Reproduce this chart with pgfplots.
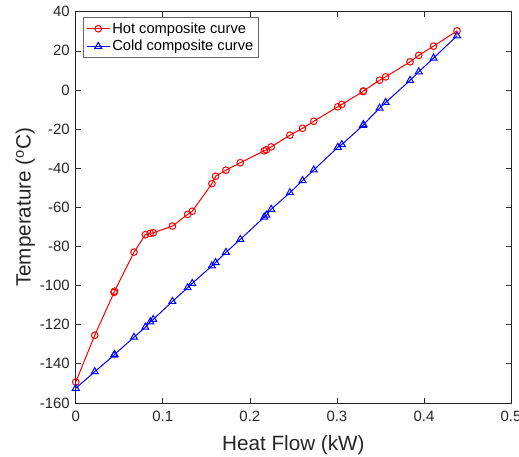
\documentclass[border=0pt]{standalone}
\usepackage{pgfplots}
\pgfplotsset{compat=1.18}
\usepackage{fontspec}
\setmainfont{Liberation Sans}
\definecolor{axgray}{gray}{0.15}
\begin{document}
\begin{tikzpicture}
\begin{axis}[
  width=326.25pt, height=293.25pt,
  scale only axis,
  xmin=0, xmax=0.5, ymin=-160, ymax=40,
  xtick={0,0.1,...,0.5}, ytick={-160,-140,...,40},
  /pgf/number format/assume math mode=true,
  xticklabel style={/pgf/number format/fixed, /pgf/number format/precision=1, yshift=-2.6pt},
  yticklabel style={xshift=-1pt},
  tick label style={font=\fontsize{11.2}{13}\selectfont, color=axgray},
  label style={font=\fontsize{15.5}{18}\selectfont, color=axgray},
  xlabel style={at={(axis description cs:0.5,-0.1221)}, anchor=base},
  ylabel style={at={(axis description cs:-0.1035,0.5)}, anchor=base},
  axis line style={axgray, line width=0.5pt},
  major tick style={axgray, line width=0.5pt},
  major tick length=4pt,
  tick align=inside,
  xlabel={Heat Flow (kW)},
  ylabel={Temperature (\textsuperscript{o}C)},
  legend style={at={(0,1)}, anchor=north west, xshift=5.7pt, yshift=-4.2pt,
    font=\fontsize{11}{13}\selectfont, draw=axgray!70, line width=0.5pt,
    inner sep=2pt, row sep=0.5pt, nodes={inner sep=1.6pt}},
  legend cell align=left,
]
\addplot[red, line width=0.75pt, mark=o, mark size=2.5pt, mark options={solid}] coordinates {
(0,-149.3) (0.0218,-125.4) (0.044,-103.5) (0.0445,-102.9) (0.0669,-82.9)
(0.0799,-74) (0.0856,-73.3) (0.089,-73) (0.111,-69.6) (0.1285,-63.6)
(0.1338,-62) (0.1564,-47.9) (0.1606,-44.1) (0.1725,-41) (0.189,-37.2)
(0.2165,-31.1) (0.219,-30.6) (0.2245,-29.1) (0.246,-23.1) (0.2605,-19.6)
(0.2734,-16) (0.301,-8.6) (0.3056,-7.4) (0.33,-0.8) (0.3305,-0.5)
(0.349,5) (0.356,6.7) (0.384,14.4) (0.394,17.7) (0.411,22.4) (0.438,30.2)
};
\addplot[blue, line width=0.75pt, mark=triangle, mark size=3pt, mark options={solid}] coordinates {
(0,-152.5) (0.0218,-144) (0.044,-135.6) (0.0445,-135.2) (0.0669,-126.4)
(0.0799,-121.3) (0.0856,-118.5) (0.089,-117.3) (0.111,-108.1) (0.1285,-101.1)
(0.1338,-98.9) (0.1564,-89.9) (0.1606,-88.2) (0.1725,-83) (0.189,-76.4)
(0.2165,-65) (0.219,-64) (0.2245,-61) (0.246,-52.5) (0.2605,-46.3)
(0.2734,-40.9) (0.301,-29.3) (0.3056,-27.9) (0.33,-18.1) (0.3305,-17.7)
(0.349,-9.3) (0.356,-6.4) (0.384,4.9) (0.394,9.3) (0.411,16.3) (0.438,27.7)
};
\legend{Hot composite curve, Cold composite curve}
\end{axis}
\pgfresetboundingbox
\path[use as bounding box] ([xshift=-56.8pt, yshift=-40.3pt]current axis.south west) rectangle ([xshift=6pt, yshift=8.8pt]current axis.north east);
\end{tikzpicture}
\end{document}
